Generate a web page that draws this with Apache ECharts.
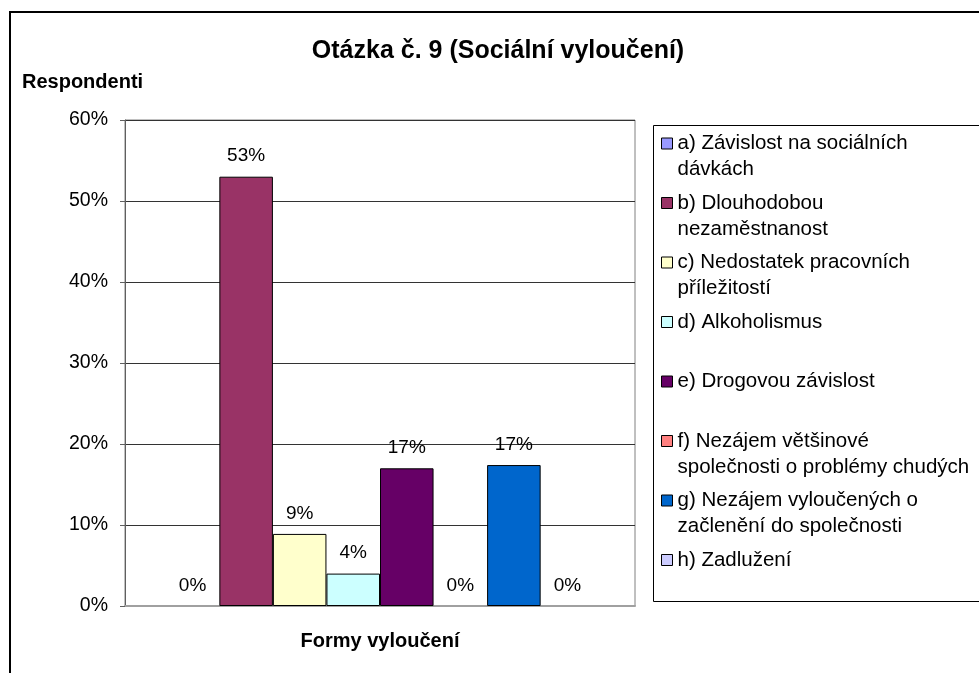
<!DOCTYPE html>
<html>
<head>
<meta charset="utf-8">
<script src="https://cdn.jsdelivr.net/npm/echarts@6/dist/echarts.min.js"></script>
<style>
html,body{margin:0;padding:0;background:#fff;}
#main{width:979px;height:673px;}
</style>
</head>
<body>
<div id="main"></div>
<script>
var myChart = echarts.init(document.getElementById("main"));

// data
var categories = [''];
var seriesNames = [
    'a) Závislost na sociálních\ndávkách',
    'b) Dlouhodobou\nnezaměstnanost',
    'c) Nedostatek pracovních\npříležitostí',
    'd) Alkoholismus',
    'e) Drogovou závislost',
    'f) Nezájem většinové\nspolečnosti o problémy chudých',
    'g) Nezájem vyloučených o\nzačlenění do společnosti',
    'h) Zadlužení'
];
var seriesValues = [0, 0.53, 0.089, 0.04, 0.17, 0, 0.174, 0];
var seriesColors = ['#9999FF', '#993366', '#FFFFCC', '#CCFFFF', '#660066', '#FF8080', '#0066CC', '#CCCCFF'];
var yTicks = [0, 0.1, 0.2, 0.3, 0.4, 0.5, 0.6];

var font = 'Arial, "Liberation Sans", sans-serif';
var lineH = 26;
// tall legend icon so the little square sits on the first text line
var iconTop = 'path://M0,0M0,7.5h11v11h-11zM0,52';

var series = [];
var legendData = [];
seriesNames.forEach(function (name, i) {
    series.push({
        name: name,
        type: 'bar',
        data: [{
            value: seriesValues[i],
            itemStyle: { borderWidth: seriesValues[i] === 0 ? 0 : 1 }
        }],
        barGap: '0%',
        barCategoryGap: '16%',
        itemStyle: { color: seriesColors[i], borderColor: '#000', borderWidth: 1 },
        label: {
            show: true,
            position: 'top',
            distance: 11,
            color: '#000',
            fontFamily: font,
            fontSize: 19,
            formatter: function (p) { return Math.round(p.value * 100) + '%'; }
        }
    });
    legendData.push({ name: name, icon: iconTop });
});

option = {
    animation: false,
    backgroundColor: '#fff',
    legend: {
        orient: 'vertical',
        left: 661,
        top: 130,
        padding: 0,
        itemGap: 6.5,
        itemWidth: 11,
        itemHeight: 52,
        selectedMode: false,
        itemStyle: { borderColor: '#000', borderWidth: 1 },
        // every entry takes two lines, like the Excel legend
        formatter: function (name) { return name.indexOf('\n') >= 0 ? name : name + '\n '; },
        textStyle: { fontFamily: font, fontSize: 20.5, color: '#000', lineHeight: lineH },
        data: legendData
    },
    grid: { left: 125, right: 344, top: 120, bottom: 67, show: true, borderColor: '#808080', borderWidth: 1 },
    xAxis: {
        type: 'category',
        data: categories,
        name: 'Formy vyloučení',
        nameLocation: 'middle',
        nameGap: 25,
        nameTextStyle: { fontFamily: font, fontSize: 20, fontWeight: 'bold', color: '#000' },
        axisLine: { lineStyle: { color: '#a0a0a0', width: 2 } },
        axisTick: { show: false },
        axisLabel: { show: false }
    },
    yAxis: {
        type: 'value',
        min: yTicks[0],
        max: yTicks[yTicks.length - 1],
        interval: 0.1,
        axisLine: { show: true, lineStyle: { color: '#606060' } },
        axisTick: { show: true, length: 5, lineStyle: { color: '#606060' } },
        axisLabel: {
            margin: 17,
            color: '#000',
            fontFamily: font,
            fontSize: 19.5,
            formatter: function (v) { return Math.round(v * 100) + '%'; }
        },
        splitLine: { lineStyle: { color: '#333', width: 1 } }
    },
    graphic: [{
        type: 'rect',
        shape: { x: 10, y: 12, width: 1000, height: 700 },
        style: { fill: 'none', stroke: '#000', lineWidth: 2 },
        silent: true
    }, {
        type: 'rect',
        shape: { x: 653.5, y: 125.5, width: 400, height: 476 },
        style: { fill: 'none', stroke: '#000', lineWidth: 1 },
        silent: true
    }, {
        type: 'text',
        x: 498,
        y: 51,
        style: {
            text: 'Otázka č. 9 (Sociální vyloučení)',
            fill: '#000',
            font: 'bold 25px ' + font,
            textAlign: 'center',
            textVerticalAlign: 'middle'
        },
        silent: true
    }, {
        type: 'text',
        x: 22,
        y: 82,
        style: {
            text: 'Respondenti',
            fill: '#000',
            font: 'bold 20px ' + font,
            textAlign: 'left',
            textVerticalAlign: 'middle'
        },
        silent: true
    }],
    series: series
};
myChart.setOption(option);
</script>
</body>
</html>
